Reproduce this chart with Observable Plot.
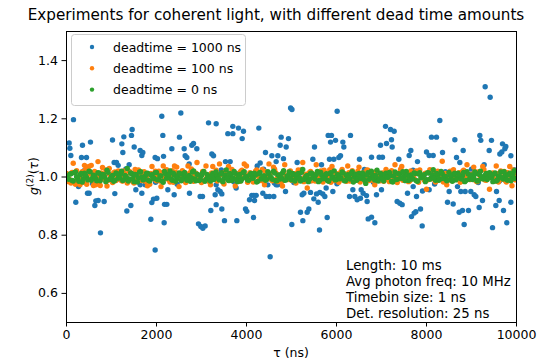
<!DOCTYPE html>
<html>
<head>
<meta charset="utf-8">
<script src="https://cdn.jsdelivr.net/npm/d3@7"></script>
<script src="https://cdn.jsdelivr.net/npm/@observablehq/plot@0.6"></script>
<style>
  html, body { margin: 0; padding: 0; background: white; }
  #chart { position: relative; width: 552px; height: 363px; }
</style>
</head>
<body>
<div id="chart"></div>
<script>
// ---------- data ----------
const seriesNames = ["deadtime = 1000 ns", "deadtime = 100 ns", "deadtime = 0 ns"];
const seriesColors = ["#1f77b4", "#ff7f0e", "#2ca02c"];
const xTicks = [0, 2000, 4000, 6000, 8000, 10000];
const yTicks = [0.6, 0.8, 1.0, 1.2, 1.4];
const infoLines = ["Length: 10 ms", "Avg photon freq: 10 MHz", "Timebin size: 1 ns", "Det. resolution: 25 ns"];

// deadtime = 1000 ns (tau in ns, g2)
const blueTau = [155,59,74,96,355,333,444,533,1022,1230,1274,1459,1444,1504,1252,1059,1111,1148,1393,207,467,504,652,630,704,837,755,1341,1430,1541,1074,267,
2118,2541,2141,2511,3156,3326,2341,2615,2785,2822,2896,2637,2674,3230,3267,1674,1696,1637,1970,2022,2156,2726,1637,1674,1748,1933,2007,1896,2178,2230,2393,2252,2733,2970,3022,3304,3207,1874,2170,2933,2985,3030,3081,1970,
4980,5010,3696,3822,3585,3696,3933,3904,4274,4770,4933,4748,4882,4422,4563,4696,4659,4822,4237,4304,3533,3637,3326,3363,3415,3452,3770,3326,3452,3511,3785,3978,4007,4067,4118,4163,4215,4178,4363,4437,4511,4607,4156,4474,4659,4696,4867,4526,5007,
6015,5815,5889,5867,5978,6311,6141,6163,5511,5474,5844,5941,6052,6089,6511,5126,5667,5052,5089,5274,5237,5422,5556,5630,5696,5741,5496,5593,5770,5919,6363,6289,6407,6459,6533,6593,6548,6681,6704,5200,5385,5348,5252,5793,5622,
8296,7089,7200,7281,6978,7111,7237,7222,8111,8222,8000,8059,8148,8356,7652,7615,6778,6948,7022,7385,7800,6667,6889,7000,7578,7704,7778,7911,8059,7348,7407,7459,6852,6778,7667,7726,7763,7867,7904,
9304,9415,8630,9185,9207,9444,9689,9763,9741,9674,9630,9874,9393,8815,8667,8741,9281,8504,8689,8763,8859,8985,9059,9096,8467,8593,8726,8800,8933,9170,9244,9556,9615,9541,9711,9874,8837,9785,9467,
120,390,580,880,1180,1320,1700,1980,2280,2460,2860,3110,3440,3720,3850,4030,4380,4620,5180,5420,5710,6010,6200,6430,6620,6820,7150,7520,7700,7950,8180,8420,8580,9000,9150,9480,9620,9950,9990];
const blueG = [1.197,1.117,1.099,1.074,1.109,1.067,1.067,1.120,1.127,1.114,1.138,1.163,1.143,1.103,1.084,1.050,1.050,1.040,1.042,0.913,0.944,0.944,0.918,0.902,0.919,0.916,0.808,0.883,0.902,0.956,0.943,0.967,
1.209,1.220,1.143,1.137,1.186,1.183,1.097,1.097,1.109,1.115,1.097,1.073,1.067,1.079,1.073,1.074,1.084,1.091,1.067,1.063,1.071,1.045,0.973,0.944,0.973,0.924,0.927,0.912,0.906,0.906,0.939,0.956,0.944,0.933,0.933,0.939,0.885,0.855,0.843,0.839,0.830,0.824,0.832,0.749,
1.237,1.232,1.174,1.168,1.149,1.149,1.157,1.132,1.168,1.137,1.132,1.109,1.103,1.084,1.073,1.073,1.053,1.063,1.038,1.048,1.053,1.053,0.973,0.956,0.950,0.942,0.962,0.905,0.890,0.850,0.850,0.890,0.882,0.922,0.937,0.937,0.937,0.919,0.944,0.933,0.933,0.933,0.861,0.973,0.973,0.973,0.950,0.726,0.837,
1.226,1.143,1.143,1.120,1.126,1.143,1.120,1.103,1.103,1.061,1.061,1.061,1.067,1.073,1.061,1.050,1.042,0.981,0.981,0.944,0.939,0.947,0.942,0.947,0.942,0.933,0.925,0.913,0.962,0.950,0.956,0.933,0.933,0.922,0.927,0.944,0.956,0.916,0.856,0.879,0.890,0.879,0.850,0.861,0.818,
1.194,1.174,1.163,1.157,1.109,1.115,1.103,1.128,1.137,1.137,1.086,1.074,1.074,1.084,1.091,1.074,1.068,1.068,1.068,1.061,1.053,0.936,0.939,0.956,0.944,0.967,0.933,0.952,0.956,0.916,0.910,0.905,0.843,0.862,0.864,0.876,0.881,0.890,0.832,
1.310,1.274,1.128,1.143,1.126,1.126,1.114,1.105,1.097,1.086,1.079,1.073,1.091,1.091,1.067,1.050,1.042,0.950,0.967,0.950,0.950,0.950,0.939,0.933,0.913,0.907,0.879,0.885,0.885,0.895,0.919,0.950,0.919,0.902,0.885,0.913,0.837,0.843,0.826,
0.985,1.022,0.978,1.012,0.992,1.028,1.005,0.982,1.019,0.975,1.008,0.990,1.024,0.984,1.015,0.996,1.027,0.979,1.012,0.987,1.021,0.977,1.006,0.993,1.026,0.982,1.014,0.988,1.023,0.996,0.976,1.018,0.991,1.027,0.981,1.009,0.986,1.025,1.020];

// time bins (ns) for the 100 ns and 0 ns runs
const tauBins = [0,50,100,150,200,250,300,350,400,450,500,550,600,650,700,750,800,850,900,950,
1000,1050,1100,1150,1200,1250,1300,1350,1400,1450,1500,1550,1600,1650,1700,1750,1800,1850,1900,1950,
2000,2050,2100,2150,2200,2250,2300,2350,2400,2450,2500,2550,2600,2650,2700,2750,2800,2850,2900,2950,
3000,3050,3100,3150,3200,3250,3300,3350,3400,3450,3500,3550,3600,3650,3700,3750,3800,3850,3900,3950,
4000,4050,4100,4150,4200,4250,4300,4350,4400,4450,4500,4550,4600,4650,4700,4750,4800,4850,4900,4950,
5000,5050,5100,5150,5200,5250,5300,5350,5400,5450,5500,5550,5600,5650,5700,5750,5800,5850,5900,5950,
6000,6050,6100,6150,6200,6250,6300,6350,6400,6450,6500,6550,6600,6650,6700,6750,6800,6850,6900,6950,
7000,7050,7100,7150,7200,7250,7300,7350,7400,7450,7500,7550,7600,7650,7700,7750,7800,7850,7900,7950,
8000,8050,8100,8150,8200,8250,8300,8350,8400,8450,8500,8550,8600,8650,8700,8750,8800,8850,8900,8950,
9000,9050,9100,9150,9200,9250,9300,9350,9400,9450,9500,9550,9600,9650,9700,9750,9800,9850,9900,9950];
const tauBinsMid = [25,75,125,175,225,275,325,375,425,475,525,575,625,675,725,775,825,875,925,975,
1025,1075,1125,1175,1225,1275,1325,1375,1425,1475,1525,1575,1625,1675,1725,1775,1825,1875,1925,1975,
2025,2075,2125,2175,2225,2275,2325,2375,2425,2475,2525,2575,2625,2675,2725,2775,2825,2875,2925,2975,
3025,3075,3125,3175,3225,3275,3325,3375,3425,3475,3525,3575,3625,3675,3725,3775,3825,3875,3925,3975,
4025,4075,4125,4175,4225,4275,4325,4375,4425,4475,4525,4575,4625,4675,4725,4775,4825,4875,4925,4975,
5025,5075,5125,5175,5225,5275,5325,5375,5425,5475,5525,5575,5625,5675,5725,5775,5825,5875,5925,5975,
6025,6075,6125,6175,6225,6275,6325,6375,6425,6475,6525,6575,6625,6675,6725,6775,6825,6875,6925,6975,
7025,7075,7125,7175,7225,7275,7325,7375,7425,7475,7525,7575,7625,7675,7725,7775,7825,7875,7925,7975,
8025,8075,8125,8175,8225,8275,8325,8375,8425,8475,8525,8575,8625,8675,8725,8775,8825,8875,8925,8975,
9025,9075,9125,9175,9225,9275,9325,9375,9425,9475,9525,9575,9625,9675,9725,9775,9825,9875,9925,9975];

// deadtime = 100 ns
const orangeG = [1.012,0.984,0.979,1.047,0.975,0.979,0.973,1.018,1.040,0.975,
1.036,1.040,0.971,0.973,1.053,0.971,1.033,1.006,0.969,1.029,
0.994,1.015,0.988,1.021,1.003,0.986,1.010,0.979,1.019,0.992,
0.979,1.008,1.024,0.990,1.013,0.985,0.970,0.975,1.036,1.002,
0.987,1.020,0.967,1.038,0.995,1.011,0.983,1.022,1.038,1.034,
0.967,1.004,0.989,0.981,1.038,1.016,0.992,1.009,1.050,0.996,
0.981,1.018,1.038,0.994,0.973,1.036,1.007,0.986,1.045,1.013,
0.976,1.001,1.036,0.990,1.017,0.969,1.010,0.985,1.023,1.045,
1.038,0.993,1.012,0.983,1.020,1.004,0.988,1.026,0.973,1.008,
1.045,0.991,1.034,1.015,0.984,1.006,0.969,1.042,0.998,1.019,
0.989,1.011,0.979,1.024,0.995,1.050,1.003,0.962,1.016,0.987,
1.009,1.042,0.992,1.021,0.983,1.013,0.996,1.025,1.036,0.988,
1.005,0.982,1.018,0.994,1.010,1.038,0.986,1.022,1.001,0.990,
1.034,0.997,1.014,0.984,1.023,1.006,0.989,0.973,1.017,0.995,
1.008,0.985,1.026,0.999,1.012,0.987,1.042,0.981,1.015,1.036,
0.993,1.007,0.984,1.021,0.998,1.011,0.986,1.024,1.003,0.990,
0.958,1.016,0.995,1.009,0.983,1.020,1.001,1.054,0.992,0.973,
1.013,0.988,1.025,0.997,1.008,0.982,1.019,1.004,1.042,0.991,
1.010,1.034,0.986,1.017,0.999,1.036,0.990,1.012,0.958,1.005,
0.994,1.038,0.983,1.021,1.000,0.988,1.015,1.036,0.970,1.008];
const orangeGMid = [1.003,0.991,1.016,0.985,1.022,0.997,1.009,0.982,1.027,0.994,
1.011,0.988,1.019,1.001,0.984,1.014,0.993,1.024,0.989,1.006,
0.981,1.017,0.996,1.008,0.987,1.021,1.000,0.992,1.013,0.984,
1.026,0.995,1.005,0.988,1.018,0.999,0.983,1.012,0.994,1.020,
1.007,0.986,1.015,0.997,1.025,0.990,1.004,0.982,1.016,1.001,
0.993,1.022,0.987,1.010,0.998,1.028,0.985,1.013,0.995,1.006,
1.019,0.989,1.002,0.984,1.014,0.996,1.023,0.991,1.008,0.983,
1.017,1.000,0.988,1.026,0.994,1.011,0.986,1.020,0.997,1.005,
0.982,1.015,0.993,1.009,1.024,0.990,1.003,0.985,1.018,0.998,
1.012,0.987,1.027,0.995,1.006,0.983,1.016,1.001,0.991,1.021,
1.004,0.988,1.014,0.996,1.025,0.984,1.010,0.993,1.019,0.999,
0.986,1.013,1.002,0.990,1.023,0.995,1.007,0.982,1.017,0.994,
1.011,0.989,1.026,1.000,0.985,1.015,0.997,1.008,0.992,1.020,
0.983,1.012,0.996,1.024,0.988,1.005,0.994,1.018,1.001,0.987,
1.014,0.991,1.009,0.984,1.022,0.998,1.006,0.993,1.027,0.989,
1.003,1.016,0.986,1.011,0.995,1.021,0.982,1.008,0.999,1.013,
0.990,1.025,0.994,1.004,0.987,1.017,1.000,0.983,1.012,0.996,
1.020,0.988,1.007,0.993,1.015,0.985,1.023,0.997,1.010,0.991,
1.002,1.018,0.984,1.009,0.995,1.026,0.989,1.005,0.998,1.014,
0.986,1.011,1.001,0.992,1.019,0.983,1.008,0.996,1.024,0.990];

// deadtime = 0 ns
const greenG = [1.004,0.992,1.011,0.986,1.017,0.995,1.008,0.983,1.013,0.998,
1.020,0.989,1.006,0.994,1.015,0.987,1.009,0.999,1.023,0.991,
1.002,0.985,1.014,0.996,1.010,0.988,1.005,1.029,0.993,1.012,
0.984,1.007,0.997,1.018,0.990,1.003,1.013,0.986,1.008,0.995,
1.016,0.991,1.004,0.982,1.011,0.999,1.021,0.989,1.006,0.994,
1.014,0.987,1.009,0.997,1.002,0.985,1.017,0.993,1.010,0.988,
1.005,1.019,0.992,1.003,0.986,1.012,0.998,1.008,0.990,1.015,
0.995,1.024,0.988,1.006,0.997,1.013,0.984,1.009,0.993,1.018,
1.001,0.989,1.012,0.996,1.007,0.985,1.016,0.994,1.004,0.991,
1.011,0.998,1.020,0.987,1.006,0.993,1.014,0.989,1.003,1.017,
0.990,1.008,0.995,1.012,0.986,1.026,0.997,1.005,0.992,1.013,
0.999,1.009,0.984,1.016,0.994,1.003,0.988,1.011,0.996,1.021,
0.991,1.006,0.998,1.014,0.987,1.008,0.993,1.018,1.000,0.989,
1.012,0.995,1.004,0.978,1.015,0.997,1.007,0.990,1.023,0.994,
1.009,0.986,1.013,0.999,1.005,0.983,1.017,0.992,1.010,0.996,
1.003,1.019,0.988,1.007,0.994,1.012,0.985,1.015,0.998,1.008,
0.991,1.014,0.996,1.025,0.989,1.006,0.993,1.011,1.002,0.987,
1.016,0.995,1.008,0.990,1.013,0.997,1.004,0.984,1.018,0.992,
1.007,0.999,1.012,0.988,1.020,0.994,1.005,0.991,1.015,0.997,
1.010,0.986,1.003,1.017,0.993,1.008,0.989,1.013,0.996,1.022];
const greenGMid = [0.997,1.010,0.988,1.015,1.001,0.985,1.012,0.994,1.006,0.990,
1.018,0.996,1.003,0.987,1.013,0.999,1.008,0.984,1.016,0.993,
1.005,0.989,1.011,0.998,1.020,0.991,1.002,0.986,1.014,0.995,
1.009,0.983,1.017,1.000,0.992,1.012,0.988,1.006,0.997,1.015,
0.990,1.004,0.986,1.019,0.996,1.008,0.993,1.013,0.985,1.002,
1.011,0.994,1.016,0.989,1.005,0.998,1.021,0.987,1.007,0.992,
1.014,0.985,1.009,0.999,1.003,0.991,1.017,0.995,1.010,0.984,
1.006,0.997,1.012,0.988,1.019,0.993,1.002,0.986,1.015,0.999,
0.990,1.008,0.996,1.013,0.983,1.011,0.994,1.004,0.989,1.018,
1.001,0.992,1.014,0.987,1.007,0.998,1.022,0.990,1.005,0.995,
1.012,0.986,1.009,0.997,1.016,0.991,1.003,0.984,1.013,0.999,
0.993,1.019,0.988,1.006,0.996,1.011,0.985,1.015,1.000,0.990,
1.008,0.994,1.017,0.987,1.004,0.998,1.012,0.983,1.010,0.995,
1.001,1.014,0.989,1.007,0.992,1.020,0.997,1.005,0.986,1.013,
0.994,1.009,0.999,1.016,0.985,1.003,0.991,1.011,0.996,1.018,
0.988,1.006,1.000,0.993,1.014,0.987,1.010,0.997,1.004,0.984,
1.015,0.992,1.008,0.998,1.012,0.989,1.019,0.995,1.002,0.990,
1.007,0.985,1.013,0.996,1.005,0.993,1.016,0.988,1.010,0.999,
0.991,1.017,0.986,1.009,1.001,0.994,1.012,0.997,1.006,0.984,
1.014,0.990,1.003,0.998,1.018,0.992,1.008,0.987,1.011,0.995];

// ---------- build tables ----------
const blueData = blueTau.map((t, i) => ({tau: t, g2: blueG[i]}));
const orangeData = tauBins.map((t, i) => ({tau: t, g2: orangeG[i]}))
  .concat(tauBinsMid.map((t, i) => ({tau: t, g2: orangeGMid[i]})));
const greenData = tauBins.map((t, i) => ({tau: t, g2: greenG[i]}))
  .concat(tauBinsMid.map((t, i) => ({tau: t, g2: greenGMid[i]})));

const FONT = "DejaVu Sans, Verdana, sans-serif";
const R = 2.7;

const plot = Plot.plot({
  width: 552,
  height: 363,
  marginLeft: 66,
  marginRight: 36,
  marginTop: 31,
  marginBottom: 41,
  style: {fontFamily: FONT, fontSize: "12.5px", color: "#000", background: "white", overflow: "visible"},
  x: {domain: [0, 10000], label: null},
  y: {domain: [0.5, 1.5], label: null},
  marks: [
    Plot.dot(blueData, {x: "tau", y: "g2", r: R, fill: seriesColors[0], stroke: "none", clip: true}),
    Plot.dot(orangeData, {x: "tau", y: "g2", r: R, fill: seriesColors[1], stroke: "none", clip: true}),
    Plot.dot(greenData, {x: "tau", y: "g2", r: R, fill: seriesColors[2], stroke: "none", clip: true}),
    Plot.frame({stroke: "#000", strokeWidth: 1}),
    Plot.axisX({ticks: xTicks, tickFormat: d => String(d), tickSize: 4.5, tickPadding: 3, fontSize: 12.5, label: null, stroke: "#000", strokeWidth: 1}),
    Plot.axisY({ticks: yTicks, tickFormat: d3.format(".1f"), tickSize: 4.5, tickPadding: 4, fontSize: 12.5, label: null, stroke: "#000", strokeWidth: 1})
  ]
});
document.getElementById("chart").appendChild(plot);

// ---------- annotations (title, labels, legend, info box) ----------
const svg = d3.select(plot);

// figure-level title (centred on the whole figure)
svg.append("text")
  .attr("x", 276).attr("y", 20)
  .attr("text-anchor", "middle")
  .style("font-family", FONT).style("font-size", "15.2px").attr("fill", "#000")
  .text("Experiments for coherent light, with different dead time amounts");

svg.append("text")
  .attr("x", 291).attr("y", 357)
  .attr("text-anchor", "middle")
  .style("font-family", FONT).style("font-size", "12.5px").attr("fill", "#000")
  .text("τ (ns)");

const yl = svg.append("text")
  .attr("transform", "translate(38,176) rotate(-90)")
  .attr("text-anchor", "middle")
  .style("font-family", FONT).style("font-size", "12.5px").attr("fill", "#000");
yl.append("tspan").style("font-style", "italic").text("g");
yl.append("tspan").attr("dy", -5).style("font-size", "9px").text("(2)");
yl.append("tspan").attr("dy", 5).text("(");
yl.append("tspan").style("font-style", "italic").text("τ");
yl.append("tspan").text(")");

// legend
const lg = svg.append("g");
lg.append("rect")
  .attr("x", 71.5).attr("y", 34.5).attr("width", 174).attr("height", 71)
  .attr("rx", 3).attr("fill", "white").attr("fill-opacity", 0.8)
  .attr("stroke", "#cccccc").attr("stroke-width", 1);
seriesNames.forEach((name, i) => {
  const yy = 47 + i * 21.3;
  lg.append("circle").attr("cx", 92).attr("cy", yy).attr("r", 2.2).attr("fill", seriesColors[i]);
  lg.append("text").attr("x", 113).attr("y", yy + 4.5)
    .attr("text-anchor", "start")
    .style("font-family", FONT).style("font-size", "12.5px").attr("fill", "#000")
    .text(name);
});

// info box
infoLines.forEach((line, i) => {
  svg.append("text").attr("x", 346).attr("y", 270 + i * 16)
    .attr("text-anchor", "start")
    .style("font-family", FONT).style("font-size", "13.3px").attr("fill", "#000")
    .text(line);
});
</script>
</body>
</html>
